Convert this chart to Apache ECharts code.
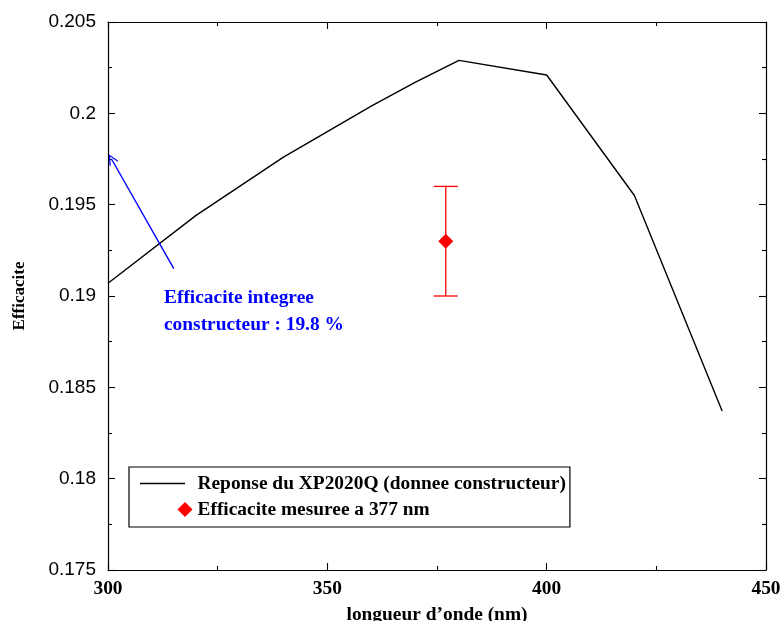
<!DOCTYPE html>
<html>
<head>
<meta charset="utf-8">
<script src="https://cdn.jsdelivr.net/npm/echarts@6/dist/echarts.min.js"></script>
<style>html,body{margin:0;padding:0;background:#fff;overflow:hidden}#c{width:782px;height:621px}</style>
</head>
<body>
<div id="c"></div>
<script>
// ---- data ----
const wavelengths = [300, 320, 340, 360, 370, 380, 400, 420, 440];
const efficiency = [0.1907, 0.1944, 0.1976, 0.2004, 0.2017, 0.2029, 0.2021, 0.1955, 0.1837];
const measuredX = [377];
const measuredY = [0.193];
const measuredLow = [0.190];
const measuredHigh = [0.196];
const arrowStart = [315, 0.1915];
const arrowEnd = [300.8, 0.1975];
const annotationLines = ['Efficacite integree', 'constructeur : 19.8 %'];
const seriesNames = ['Reponse du XP2020Q (donnee constructeur)', 'Efficacite mesuree a 377 nm'];
const xTicks = [300, 450, 50];
const yTicks = [0.175, 0.205, 0.005];

const serif = '"Liberation Serif", "Times New Roman", serif';
const sans = '"Liberation Sans", Helvetica, Arial, sans-serif';
const serifSize = 19.4;

const lineData = wavelengths.map((w, i) => [w, efficiency[i]]);
const pointData = measuredX.map((x, i) => [x, measuredY[i]]);
const errData = measuredX.map((x, i) => [x, measuredY[i], measuredLow[i], measuredHigh[i]]);

const axisLine = { show: true, onZero: false, lineStyle: { color: '#000', width: 1.2 } };
const tick = { show: true, inside: true, length: 7, lineStyle: { color: '#000', width: 1.1 } };
const minor = { show: true, splitNumber: 2, length: 4, lineStyle: { color: '#000', width: 1.1 } };

const chart = echarts.init(document.getElementById('c'), null, { renderer: 'canvas', width: 782, height: 621 });
chart.setOption({
  animation: false,
  backgroundColor: '#fff',
  grid: { left: 108, width: 658, top: 22, height: 548, containLabel: false, outerBoundsMode: 'none' },
  xAxis: [{
    type: 'value', min: xTicks[0], max: xTicks[1], interval: xTicks[2],
    position: 'bottom',
    axisLine, axisTick: tick, minorTick: minor, splitLine: { show: false },
    axisLabel: { color: '#000', fontFamily: serif, fontWeight: 'bold', fontSize: serifSize, margin: 9 },
    name: 'longueur d\u2019onde (nm)', nameLocation: 'middle', nameGap: 35,
    nameTextStyle: { color: '#000', fontFamily: serif, fontWeight: 'bold', fontSize: serifSize }
  }, {
    type: 'value', min: xTicks[0], max: xTicks[1], interval: xTicks[2],
    position: 'top',
    axisLine, axisTick: tick, minorTick: minor, splitLine: { show: false },
    axisLabel: { show: false }
  }],
  yAxis: [{
    type: 'value', min: yTicks[0], max: yTicks[1], interval: yTicks[2],
    position: 'left',
    axisLine, axisTick: tick, minorTick: minor, splitLine: { show: false },
    axisLabel: { color: '#000', fontFamily: sans, fontSize: 19, margin: 12,
      formatter: v => String(+v.toFixed(4)) },
    name: 'Efficacite', nameLocation: 'middle', nameGap: 80, nameRotate: 90,
    nameTextStyle: { color: '#000', fontFamily: serif, fontWeight: 'bold', fontSize: 17 }
  }, {
    type: 'value', min: yTicks[0], max: yTicks[1], interval: yTicks[2],
    position: 'right',
    axisLine, axisTick: tick, minorTick: minor, splitLine: { show: false },
    axisLabel: { show: false }
  }],
  legend: {
    orient: 'vertical', left: 129, top: 467,
    padding: [7, 4, 8, 11], itemGap: 7,
    backgroundColor: '#fff', borderColor: '#000', borderWidth: 1.2, borderRadius: 0,
    itemWidth: 52.5, itemHeight: 15,
    itemStyle: { borderWidth: 0, opacity: 1 },
    textStyle: { color: '#000', fontFamily: serif, fontWeight: 'bold', fontSize: serifSize },
    selectedMode: false,
    data: [
      { name: seriesNames[0], icon: 'path://M0,6.8L45,6.8L45,8.3L0,8.3ZM52.5,0L52.5,0M0,15L0,15' },
      { name: seriesNames[1], icon: 'path://M0,0L0,0M45,0L52.5,7.5L45,15L37.5,7.5Z' }
    ]
  },
  graphic: [{
    type: 'text', left: 164, top: 285, silent: true,
    style: {
      text: annotationLines.join('\n'),
      fill: '#0000ff', font: 'bold ' + serifSize + 'px ' + serif, lineHeight: 26.5
    }
  }],
  series: [{
    name: seriesNames[0], type: 'line', data: lineData,
    showSymbol: false, symbol: 'none',
    lineStyle: { color: '#000', width: 1.4 }, itemStyle: { color: '#000' },
    silent: true, z: 3,
    markLine: {
      silent: true, symbol: ['none', 'path://M5,0L10,10L8.9,10.6L5,2.6L1.1,10.6L0,10Z'], symbolSize: [10, 11],
      label: { show: false },
      lineStyle: { color: '#0000ff', width: 1.4, type: 'solid' },
      data: [[{ coord: arrowStart }, { coord: arrowEnd }]]
    }
  }, {
    name: 'errorbar', type: 'custom', data: errData, silent: true, z: 2,
    renderItem: function (params, api) {
      const x = api.value(0);
      const lo = api.coord([x, api.value(2)]);
      const hi = api.coord([x, api.value(3)]);
      const w = 12;
      const style = { stroke: '#ff0000', lineWidth: 1.3 };
      return { type: 'group', children: [
        { type: 'line', shape: { x1: lo[0], y1: lo[1], x2: hi[0], y2: hi[1] }, style },
        { type: 'line', shape: { x1: lo[0] - w, y1: lo[1], x2: lo[0] + w, y2: lo[1] }, style },
        { type: 'line', shape: { x1: hi[0] - w, y1: hi[1], x2: hi[0] + w, y2: hi[1] }, style }
      ] };
    }
  }, {
    name: seriesNames[1], type: 'scatter', data: pointData,
    symbol: 'diamond', symbolSize: 15, itemStyle: { color: '#ff0000', opacity: 1 }, silent: true, z: 4
  }]
});
</script>
</body>
</html>
